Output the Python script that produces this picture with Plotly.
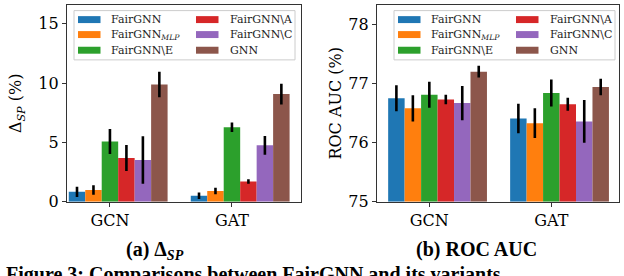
import plotly.graph_objects as go

models = ["GCN", "GAT"]
methods = ["FairGNN", "FairGNN<sub><i>MLP</i></sub>", "FairGNN\\E", "FairGNN\\A", "FairGNN\\C", "GNN"]
colors = ["#1f77b4", "#ff7f0e", "#2ca02c", "#d62728", "#9467bd", "#8c564b"]

# Delta SP (%) : rows = methods, cols = [GCN, GAT]
sp_mean = [[0.84, 0.52], [1.00, 0.92], [5.08, 6.28], [3.70, 1.71], [3.53, 4.76], [9.89, 9.08]]
sp_err = [[0.43, 0.27], [0.40, 0.27], [1.05, 0.40], [1.10, 0.19], [2.00, 0.79], [1.08, 0.87]]

# ROC AUC (%)
auc_mean = [[76.75, 76.41], [76.58, 76.33], [76.81, 76.84], [76.73, 76.65], [76.67, 76.36], [77.20, 76.94]]
auc_err = [[0.22, 0.25], [0.22, 0.25], [0.22, 0.23], [0.08, 0.11], [0.29, 0.36], [0.10, 0.14]]
AUC_BASE = 75

W = 624
H = 292  # page is 276 tall; the caption line below is cropped like in the original
BW = 0.135


def px(x):
    return x / W


def py(y):
    return (H - y) / H


fig = go.Figure()

for i, name in enumerate(methods):
    common = dict(width=BW, offset=(i - 2) * BW - BW / 2,
                  marker=dict(color=colors[i], line=dict(width=0)),
                  showlegend=False, name=name)
    fig.add_trace(go.Bar(
        x=models, y=sp_mean[i], xaxis="x", yaxis="y",
        error_y=dict(type="data", array=sp_err[i], color="black", thickness=2.6, width=0),
        **common))
    fig.add_trace(go.Bar(
        x=models, y=[m - AUC_BASE for m in auc_mean[i]], base=AUC_BASE, xaxis="x2", yaxis="y2",
        error_y=dict(type="data", array=auc_err[i], color="black", thickness=2.6, width=0),
        **common))

axis_common = dict(showline=True, linecolor="#333333", linewidth=1.2, mirror=True,
                   ticks="outside", ticklen=4, tickcolor="#333333", tickwidth=1,
                   showgrid=False, zeroline=False,
                   tickfont=dict(family="DejaVu Serif", size=16, color="black"))

shapes = []
annotations = []
for dx in (0, 320):
    shapes.append(dict(type="rect", xref="paper", yref="paper",
                       x0=px(74 + dx), x1=px(295 + dx), y0=py(62), y1=py(11),
                       line=dict(color="#cccccc", width=1), fillcolor="white", layer="above"))
    for i, name in enumerate(methods):
        col, row = divmod(i, 3)
        sx = (78 if col == 0 else 196) + dx
        tx = (109 if col == 0 else 228) + dx
        cy = [20.3, 35.8, 52.0][row]
        shapes.append(dict(type="rect", xref="paper", yref="paper",
                           x0=px(sx), x1=px(sx + 22.5), y0=py(cy + 3.6), y1=py(cy - 3.6),
                           line=dict(width=0), fillcolor=colors[i], layer="above"))
        annotations.append(dict(text=name, x=px(tx), y=py(cy), xref="paper", yref="paper",
                                showarrow=False, xanchor="left", yanchor="middle",
                                font=dict(family="DejaVu Serif", size=11, color="#222222")))

annotations += [
    dict(text="<b>(a) Δ<sub><i>SP</i></sub></b>", x=px(155), y=py(259),
         xref="paper", yref="paper", showarrow=False, xanchor="center", yanchor="middle",
         font=dict(family="Liberation Serif", size=20, color="black")),
    dict(text="<b>(b) ROC AUC</b>", x=px(476), y=py(258),
         xref="paper", yref="paper", showarrow=False, xanchor="center", yanchor="middle",
         font=dict(family="Liberation Serif", size=20, color="black")),
    dict(text="<b>Figure 3: Comparisons between FairGNN and its variants</b>",
         x=px(4), y=py(270), xref="paper", yref="paper", showarrow=False,
         xanchor="left", yanchor="top",
         font=dict(family="Liberation Serif", size=20, color="black")),
]

fig.update_layout(
    width=W, height=H, margin=dict(l=0, r=0, t=0, b=0),
    plot_bgcolor="white", paper_bgcolor="white",
    barmode="overlay", showlegend=False,
    xaxis=dict(domain=[px(67), px(301)], anchor="y", type="category",
               range=[-0.352, 1.566], **axis_common),
    yaxis=dict(domain=[py(209), py(5)], anchor="x",
               range=[0, 16.6], tickvals=[0, 5, 10, 15],
               title=dict(text="Δ<sub><i>SP</i></sub> (%)", standoff=12,
                          font=dict(family="DejaVu Serif", size=16, color="black")),
               **axis_common),
    xaxis2=dict(domain=[px(377), px(619)], anchor="y2", type="category",
                range=[-0.429, 1.555], **axis_common),
    yaxis2=dict(domain=[py(209), py(5)], anchor="x2",
                range=[75, 78.33], tickvals=[75, 76, 77, 78],
                title=dict(text="ROC AUC (%)", standoff=2,
                           font=dict(family="DejaVu Serif", size=16, color="black")),
                **axis_common),
    shapes=shapes,
    annotations=annotations,
)

fig.write_html("out.html", config={"displayModeBar": False},
               post_script="document.body.style.margin='0';document.body.style.overflow='hidden';")
